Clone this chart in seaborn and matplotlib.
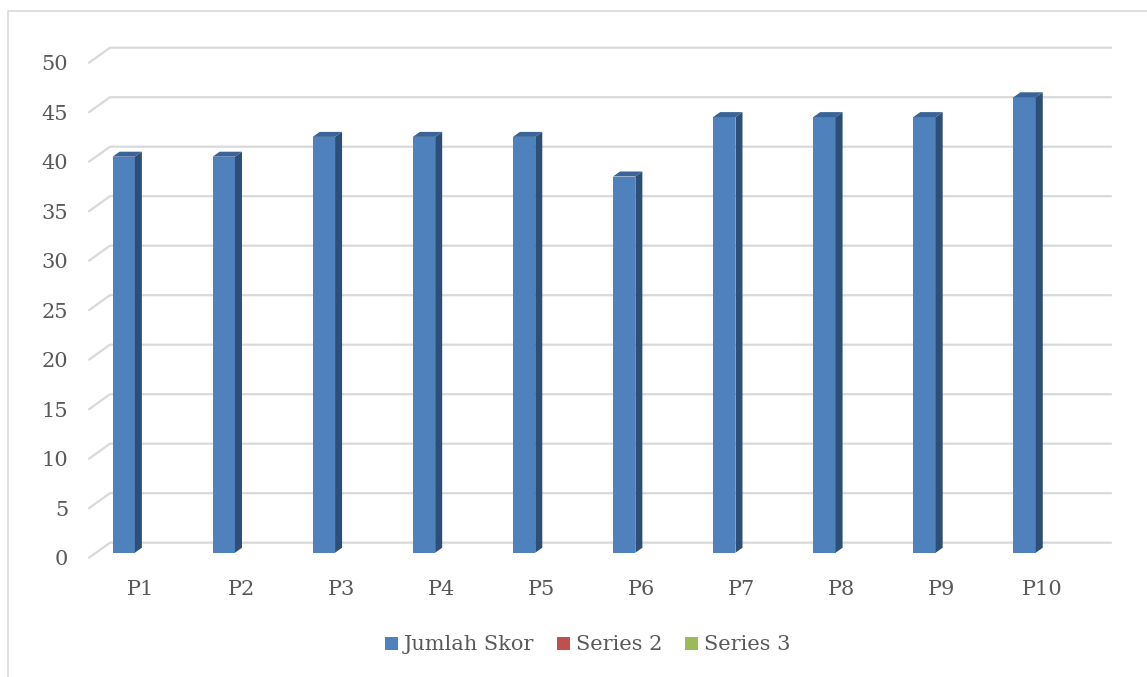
import numpy as np
import pandas as pd
import matplotlib
matplotlib.use("Agg")
import matplotlib.pyplot as plt
import seaborn as sns
from matplotlib.patches import Patch, Polygon, Rectangle
from matplotlib.lines import Line2D
from matplotlib.transforms import ScaledTranslation, IdentityTransform

# datos
pemain = ["P1", "P2", "P3", "P4", "P5", "P6", "P7", "P8", "P9", "P10"]
jumlah_skor = [40, 40, 42, 42, 42, 38, 44, 44, 44, 46]
series_names = ["Jumlah Skor", "Series 2", "Series 3"]
y_ticks = [0, 5, 10, 15, 20, 25, 30, 35, 40, 45, 50]

warna = ["#4F81BD", "#C0504D", "#9BBB59"]
warna_samping = "#2D4E77"
warna_atas = "#3A6497"
warna_teks = "#595959"
warna_grid = "#D9D9D9"

df = pd.DataFrame({
    "Pemain": pemain * 3,
    "Seri": [s for s in series_names for _ in pemain],
    "Skor": jumlah_skor + [np.nan] * len(pemain) * 2,
})

sns.set_theme(style="white")
plt.rcParams["font.family"] = ["DejaVu Serif"]

DPI = 100
fig = plt.figure(figsize=(11.47, 6.77), dpi=DPI)
W, H = 1147, 677
ax = fig.add_axes([96 / W, 1 - 552.7 / H, 1001 / W, 495 / H])

sns.barplot(data=df, x="Pemain", y="Skor", hue="Seri", hue_order=series_names,
            order=pemain, palette=warna, width=0.67, dodge=True, saturation=1,
            linewidth=0, errorbar=None, legend=False, ax=ax, zorder=3)

ax.set_ylim(0, 50)
ax.set_xlim(-0.5, len(pemain) - 0.5)
ax.set_xlabel("")
ax.set_ylabel("")
for s in ax.spines.values():
    s.set_visible(False)
ax.grid(False)

# offsets 3D (pixel)
wall = np.array([14, 10])
floor = np.array([-7, -5])
depth = np.array([7, 5])

ax.set_yticks(y_ticks)
ax.set_yticklabels([str(v) for v in y_ticks])
ax.tick_params(axis="y", length=0, pad=20, labelsize=15, labelcolor=warna_teks)
ax.tick_params(axis="x", length=0, pad=19.5, labelsize=15, labelcolor=warna_teks)
for lab in ax.get_yticklabels():
    lab.set_transform(lab.get_transform() + ScaledTranslation(0, floor[1] / DPI, fig.dpi_scale_trans))
for lab in ax.get_xticklabels():
    lab.set_transform(lab.get_transform() + ScaledTranslation((floor[0] + 2) / DPI, 0, fig.dpi_scale_trans))

fig.canvas.draw()
tr = ax.transData
x_left, x_right = ax.get_xlim()

# grid: dinding belakang + diagonal di kiri
for v in y_ticks:
    p_l = tr.transform((x_left, v))
    p_r = tr.transform((x_right, v))
    pts = np.array([p_l + floor, p_l + wall, p_r + wall])
    ax.add_artist(Line2D(pts[:, 0], pts[:, 1], transform=IdentityTransform(),
                         color=warna_grid, lw=1.6, zorder=1, clip_on=False))

# sisi & atas balok
for bar in ax.patches:
    h = bar.get_height()
    if not np.isfinite(h) or h <= 0:
        continue
    x0, x1 = bar.get_x(), bar.get_x() + bar.get_width()
    tl = tr.transform((x0, h))
    trr = tr.transform((x1, h))
    br = tr.transform((x1, 0))
    side = Polygon([trr, trr + depth, br + depth, br], closed=True,
                   transform=IdentityTransform(), facecolor=warna_samping,
                   edgecolor="none", zorder=4, clip_on=False)
    top = Polygon([tl, trr, trr + depth, tl + depth], closed=True,
                  transform=IdentityTransform(), facecolor=warna_atas,
                  edgecolor="none", zorder=4, clip_on=False)
    ax.add_artist(side)
    ax.add_artist(top)

# bingkai chart
fig.add_artist(Rectangle((8 / W, -0.1), 1.2, 1 - 11 / H + 0.1, transform=fig.transFigure,
                         fill=False, edgecolor=warna_grid, lw=1.2, zorder=0))

# legenda
handles = [Patch(facecolor=c, edgecolor="none", label=n) for c, n in zip(warna, series_names)]
fig.legend(handles=handles, loc="center", bbox_to_anchor=(588 / W, 1 - 645 / H),
           ncol=3, frameon=False, fontsize=15, labelcolor=warna_teks,
           handlelength=0.6, handleheight=0.6, handletextpad=0.3, columnspacing=1.1)

fig.savefig("out.png", dpi=DPI)
